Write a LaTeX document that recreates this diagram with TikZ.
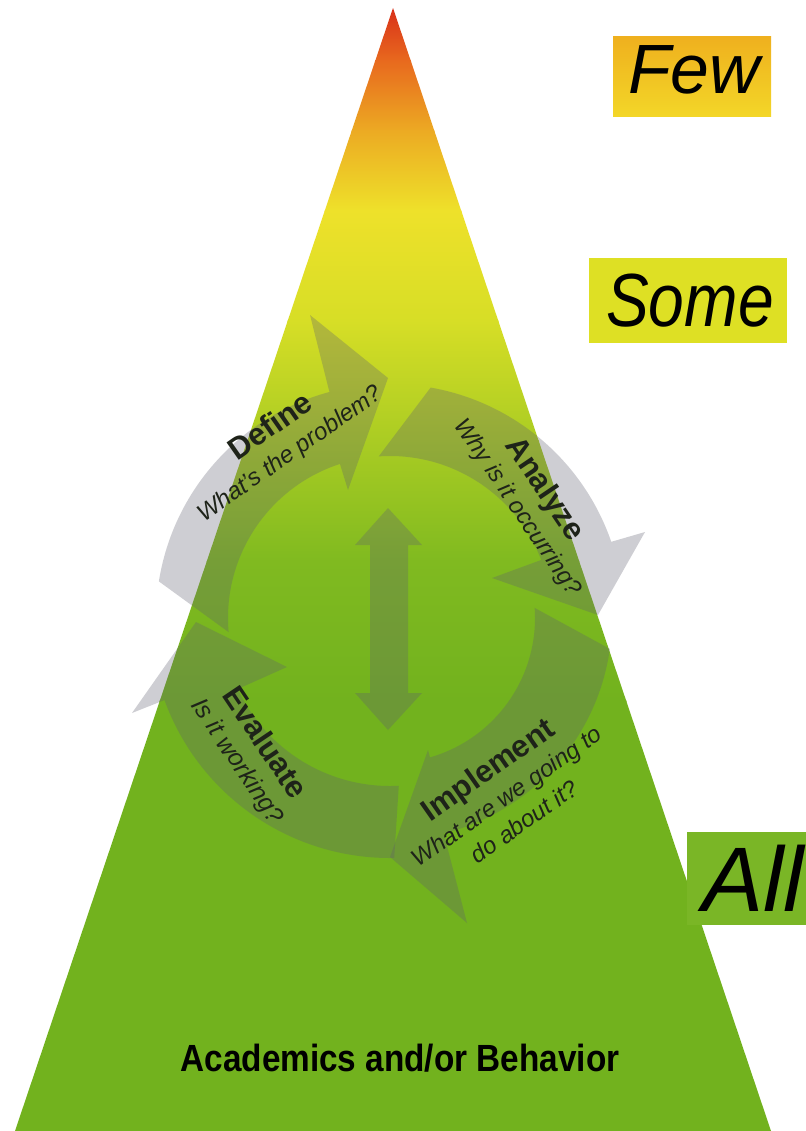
\documentclass[tikz,border=0pt]{standalone}
\usepackage{fontspec}
\setmainfont{Liberation Sans}
\definecolor{arrowgray}{RGB}{95,95,110}
\definecolor{gA}{RGB}{214,40,25}
\definecolor{gB}{RGB}{232,105,30}
\definecolor{gC}{RGB}{236,170,35}
\definecolor{gD}{RGB}{238,225,42}
\definecolor{gE}{RGB}{215,222,38}
\definecolor{gF}{RGB}{170,204,35}
\definecolor{gG}{RGB}{128,186,32}
\definecolor{gH}{RGB}{114,178,30}
\definecolor{fewtop}{RGB}{239,176,30}
\definecolor{fewbot}{RGB}{243,214,40}
\definecolor{somefill}{RGB}{222,224,36}
\definecolor{allfill}{RGB}{122,182,38}
\definecolor{labeltext}{RGB}{30,35,25}
\newcommand{\steptitle}[1]{{\fontsize{31}{33}\selectfont\bfseries #1}}
\newcommand{\stepsub}[1]{{\fontsize{24}{33}\selectfont\itshape #1}}
\tikzset{
  cyclearrow/.style={fill=arrowgray, fill opacity=0.3},
  steplabel/.style={align=center, text=labeltext, inner sep=0pt, font=\fontsize{24}{31}\selectfont},
  levellabel/.style={anchor=base, inner sep=0pt, font=\fontsize{70}{70}\selectfont\itshape}
}
\begin{document}
\begin{tikzpicture}[x=1bp,y=-1bp]
\useasboundingbox (0,0) rectangle (806,1131);
\fill[white] (0,0) rectangle (806,1131);

% pyramid
\coordinate (apex) at (393,8);
\coordinate (bl) at (15,1131);
\coordinate (br) at (771,1131);
\begin{scope}
  \clip (apex) -- (br) -- (bl) -- cycle;
  \shade[top color=gA, bottom color=gB] (0,0) rectangle (806,61);
  \shade[top color=gB, bottom color=gC] (0,60) rectangle (806,131);
  \shade[top color=gC, bottom color=gD] (0,130) rectangle (806,211);
  \shade[top color=gD, bottom color=gE] (0,210) rectangle (806,321);
  \shade[top color=gE, bottom color=gF] (0,320) rectangle (806,441);
  \shade[top color=gF, bottom color=gG] (0,440) rectangle (806,561);
  \shade[top color=gG, bottom color=gH] (0,560) rectangle (806,701);
  \fill[gH] (0,700) rectangle (806,1131);
\end{scope}

% level labels
\shade[top color=fewtop, bottom color=fewbot] (613,36) rectangle (771,116);
\node[levellabel] (few) at (694,93) {Few};
\fill[somefill] (589,258) rectangle (787,343);
\node[levellabel, xscale=0.92, yscale=1.08] (some) at (690,326) {Some};
\fill[allfill] (687,832) rectangle (806,925);
\node[levellabel, font=\fontsize{92}{92}\selectfont\itshape] (all) at (753,911) {All};

% cycle arrows
\begin{scope}[shift={(390,618)}, yscale=-1]
  % Define
  \fill[cyclearrow] (171:234) arc[start angle=171, end angle=105, radius=234]
    -- (-80,303) -- (-2,240) -- (-42,128)
    -- (108:162) arc[start angle=108, end angle=185, radius=162] -- cycle;
  % Analyze
  \fill[cyclearrow] (80:234) arc[start angle=80, end angle=19, radius=234]
    -- (255,86) -- (208,3) -- (102,40)
    -- (21:162) arc[start angle=21, end angle=94, radius=162] -- cycle;
  % Implement
  \fill[cyclearrow] (-8:222) arc[start angle=-8, end angle=-76, radius=222]
    -- (77,-305) -- (0,-239) -- (38,-132)
    -- (-74:145) arc[start angle=-74, end angle=4, radius=145] -- cycle;
  % Evaluate
  \fill[cyclearrow] (271:240) arc[start angle=271, end angle=200, radius=240]
    -- (-258,-95) -- (-194,-4) -- (-103,-49)
    -- (205:168) arc[start angle=205, end angle=273, radius=168] -- cycle;
\end{scope}

% double arrow
\fill[cyclearrow] (388,508) -- (422,545) -- (408,545) -- (408,693) -- (422,693)
  -- (388,730) -- (355,693) -- (370,693) -- (370,545) -- (355,545) -- cycle;

% step labels
\node[steplabel, rotate=35] (define) at (280,440)
  {\steptitle{Define}\\\stepsub{What’s the problem?}};
\node[steplabel, rotate=-56] (analyze) at (532,498)
  {\steptitle{Analyze}\\\stepsub{Why is it occurring?}};
\node[steplabel, rotate=35] (implement) at (505,794)
  {\steptitle{Implement}\\\stepsub{What are we going to}\\\stepsub{do about it?}};
\node[steplabel, rotate=-56] (evaluate) at (251,752)
  {\steptitle{Evaluate}\\{\fontsize{25}{33}\selectfont\itshape Is it working?}};

% base label
\node[inner sep=0pt, font=\fontsize{38}{38}\selectfont\bfseries, xscale=0.88] (base) at (400,1058) {Academics and/or Behavior};
\end{tikzpicture}
\end{document}
